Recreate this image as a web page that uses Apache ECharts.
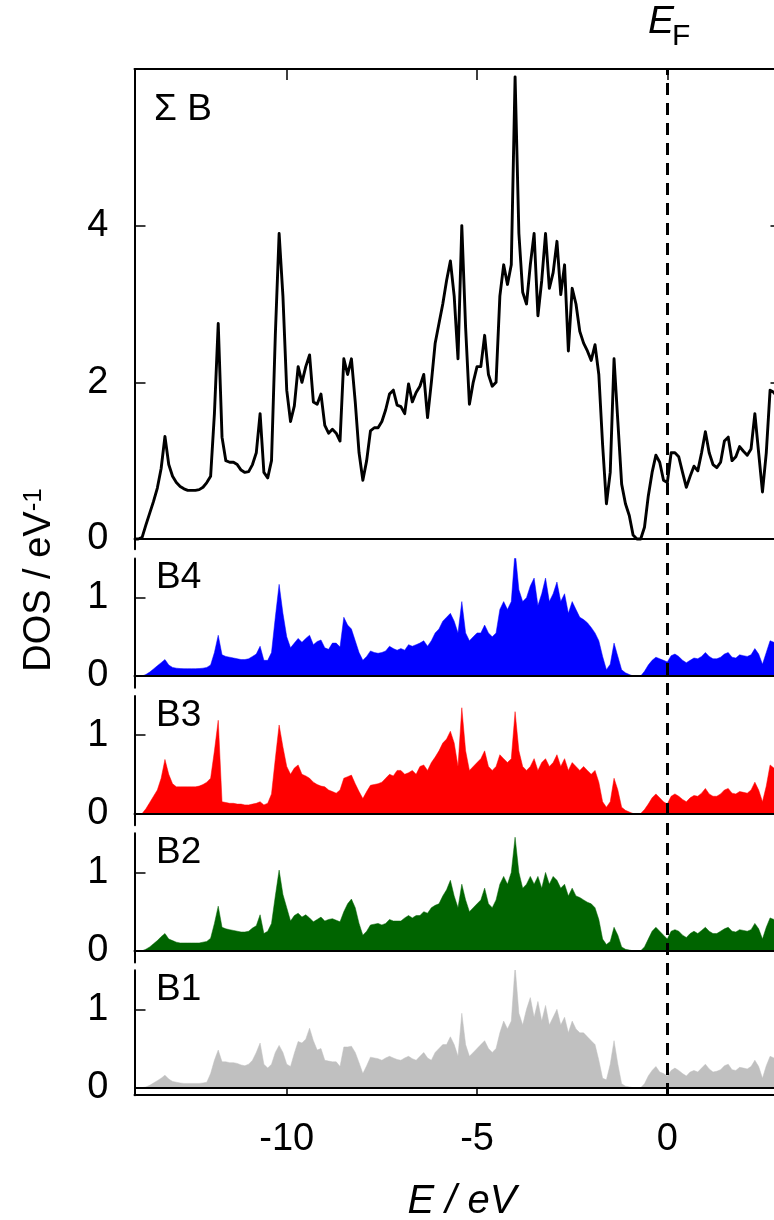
<!DOCTYPE html>
<html><head><meta charset="utf-8">
<script src="https://cdn.jsdelivr.net/npm/echarts@6/dist/echarts.min.js"></script>
<style>html,body{margin:0;padding:0;background:#fff}#c{width:774px;height:1220px}</style>
</head><body><div id="c"></div><script>
// Energy grid (eV)
const energy = [
-14,-13.9,-13.8,-13.7,-13.6,-13.5,-13.4,-13.3,-13.2,-13.1,
-13,-12.9,-12.8,-12.7,-12.6,-12.5,-12.4,-12.3,-12.2,-12.1,
-12,-11.9,-11.8,-11.7,-11.6,-11.5,-11.4,-11.3,-11.2,-11.1,
-11,-10.9,-10.8,-10.7,-10.6,-10.5,-10.4,-10.3,-10.2,-10.1,
-10,-9.9,-9.8,-9.7,-9.6,-9.5,-9.4,-9.3,-9.2,-9.1,
-9,-8.9,-8.8,-8.7,-8.6,-8.5,-8.4,-8.3,-8.2,-8.1,
-8,-7.9,-7.8,-7.7,-7.6,-7.5,-7.4,-7.3,-7.2,-7.1,
-7,-6.9,-6.8,-6.7,-6.6,-6.5,-6.4,-6.3,-6.2,-6.1,
-6,-5.9,-5.8,-5.7,-5.6,-5.5,-5.4,-5.3,-5.2,-5.1,
-5,-4.9,-4.8,-4.7,-4.6,-4.5,-4.4,-4.3,-4.2,-4.1,
-4,-3.9,-3.8,-3.7,-3.6,-3.5,-3.4,-3.3,-3.2,-3.1,
-3,-2.9,-2.8,-2.7,-2.6,-2.5,-2.4,-2.3,-2.2,-2.1,
-2,-1.9,-1.8,-1.7,-1.6,-1.5,-1.4,-1.3,-1.2,-1.1,
-1,-0.9,-0.8,-0.7,-0.6,-0.5,-0.4,-0.3,-0.2,-0.1,
0,0.1,0.2,0.3,0.4,0.5,0.6,0.7,0.8,0.9,
1,1.1,1.2,1.3,1.4,1.5,1.6,1.7,1.8,1.9,
2,2.1,2.2,2.3,2.4,2.5,2.6,2.7,2.8,2.9,
3];

// Total boron DOS (Sigma B)
const sumB = [
0,0,0.02,0.18,0.33,0.48,0.65,0.9,1.31,0.95,
0.8,0.72,0.67,0.64,0.62,0.62,0.62,0.63,0.66,0.72,
0.8,1.6,2.75,1.3,1.0,0.98,0.98,0.95,0.88,0.85,
0.86,0.95,1.1,1.6,0.85,0.78,1.0,2.6,3.9,3.1,
1.9,1.5,1.7,2.2,2.0,2.2,2.35,1.75,1.72,1.85,
1.45,1.35,1.4,1.35,1.25,2.3,2.1,2.3,1.75,1.1,
0.75,1.0,1.38,1.42,1.42,1.5,1.65,1.85,1.9,1.71,
1.69,1.6,1.98,1.75,1.87,1.95,2.1,1.55,2.0,2.5,
2.75,3.0,3.3,3.55,3.1,2.3,4.0,2.7,1.72,2.0,
2.2,2.2,2.6,2.1,1.95,2.0,3.1,3.5,3.25,3.5,
5.9,3.9,3.15,3.0,3.5,3.9,2.85,3.3,3.9,3.2,
3.4,3.8,3.12,3.5,2.4,3.2,3.0,2.65,2.5,2.4,
2.28,2.48,2.1,1.2,0.45,0.85,2.3,1.5,0.7,0.45,
0.3,0.05,0,0,0.15,0.55,0.85,1.07,0.98,0.75,
0.72,1.1,1.1,1.05,0.85,0.66,0.8,0.93,0.87,1.1,
1.37,1.1,0.95,0.91,0.98,1.25,1.3,1.0,1.05,1.18,
1.12,1.07,1.15,1.6,1.1,0.6,1.1,1.9,1.87,1.8,
1.75];

const b4 = [
0,0,0,0.02,0.05,0.09,0.13,0.17,0.21,0.14,
0.11,0.1,0.095,0.094,0.094,0.094,0.094,0.095,0.1,0.11,
0.14,0.3,0.52,0.27,0.25,0.24,0.23,0.22,0.21,0.21,
0.22,0.25,0.28,0.38,0.2,0.2,0.3,0.75,1.17,0.8,
0.5,0.36,0.42,0.48,0.43,0.48,0.52,0.4,0.44,0.46,
0.36,0.34,0.42,0.42,0.37,0.75,0.65,0.6,0.45,0.3,
0.2,0.25,0.32,0.3,0.29,0.3,0.32,0.38,0.35,0.33,
0.35,0.33,0.4,0.38,0.4,0.42,0.45,0.38,0.45,0.55,
0.6,0.7,0.75,0.8,0.7,0.55,0.95,0.55,0.45,0.5,
0.55,0.55,0.65,0.55,0.5,0.55,0.85,0.95,0.85,0.95,
1.6,1.1,0.95,1.0,1.15,1.25,0.9,1.05,1.25,0.95,
1.05,1.2,0.95,1.05,0.8,0.95,0.85,0.75,0.72,0.68,
0.62,0.55,0.45,0.25,0.08,0.15,0.42,0.25,0.08,0.04,
0.02,0,0,0,0.06,0.14,0.2,0.24,0.22,0.2,
0.18,0.26,0.28,0.25,0.2,0.17,0.2,0.23,0.22,0.25,
0.3,0.25,0.22,0.22,0.24,0.28,0.3,0.24,0.23,0.27,
0.26,0.25,0.27,0.35,0.28,0.15,0.3,0.45,0.43,0.42,
0.4];

const b3 = [
0,0,0,0.06,0.14,0.22,0.3,0.45,0.69,0.5,
0.38,0.34,0.34,0.34,0.34,0.34,0.34,0.35,0.37,0.4,
0.45,0.8,1.19,0.15,0.14,0.13,0.13,0.12,0.12,0.11,
0.11,0.12,0.13,0.15,0.11,0.13,0.25,0.7,1.13,0.85,
0.6,0.5,0.58,0.62,0.5,0.48,0.45,0.4,0.37,0.35,
0.34,0.3,0.28,0.26,0.3,0.45,0.47,0.49,0.38,0.28,
0.19,0.28,0.36,0.37,0.38,0.4,0.45,0.5,0.48,0.55,
0.55,0.5,0.52,0.55,0.5,0.6,0.62,0.55,0.65,0.72,
0.8,0.9,0.95,1.05,0.9,0.6,1.35,0.8,0.55,0.6,
0.65,0.7,0.8,0.6,0.55,0.6,0.75,0.7,0.65,0.7,
1.3,0.8,0.6,0.55,0.6,0.7,0.55,0.65,0.7,0.6,
0.65,0.75,0.6,0.7,0.55,0.65,0.6,0.55,0.6,0.55,
0.5,0.55,0.4,0.15,0.08,0.15,0.45,0.3,0.08,0.04,
0.02,0,0,0,0.05,0.12,0.2,0.25,0.2,0.15,
0.12,0.22,0.25,0.22,0.18,0.15,0.2,0.23,0.22,0.26,
0.32,0.25,0.22,0.22,0.25,0.3,0.32,0.26,0.25,0.28,
0.27,0.26,0.3,0.4,0.3,0.15,0.35,0.62,0.58,0.55,
0.52];

const b2 = [
0,0,0,0.02,0.05,0.09,0.13,0.18,0.22,0.15,
0.13,0.11,0.1,0.1,0.1,0.1,0.1,0.1,0.11,0.12,
0.16,0.35,0.57,0.3,0.28,0.27,0.26,0.25,0.24,0.24,
0.25,0.29,0.32,0.46,0.22,0.25,0.35,0.7,1.03,0.72,
0.55,0.38,0.45,0.48,0.43,0.46,0.42,0.37,0.4,0.43,
0.38,0.4,0.41,0.39,0.37,0.5,0.6,0.66,0.55,0.35,
0.2,0.25,0.33,0.34,0.35,0.33,0.35,0.4,0.38,0.38,
0.38,0.42,0.45,0.42,0.45,0.45,0.5,0.48,0.55,0.58,
0.6,0.7,0.78,0.9,0.7,0.55,0.85,0.65,0.5,0.55,
0.6,0.65,0.8,0.6,0.55,0.65,0.85,0.95,0.85,1.0,
1.45,1.0,0.8,0.85,0.95,0.85,0.95,0.8,1.0,0.85,
0.95,0.9,0.8,0.85,0.7,0.8,0.7,0.68,0.65,0.62,
0.6,0.55,0.4,0.15,0.08,0.12,0.3,0.2,0.05,0.02,
0.01,0,0,0,0.05,0.15,0.25,0.3,0.25,0.2,
0.15,0.25,0.27,0.25,0.2,0.17,0.22,0.25,0.22,0.26,
0.3,0.25,0.22,0.22,0.25,0.28,0.3,0.25,0.24,0.27,
0.26,0.25,0.27,0.35,0.28,0.15,0.3,0.42,0.4,0.38,
0.36];

const b1 = [
0,0,0,0.01,0.03,0.06,0.09,0.12,0.16,0.11,
0.08,0.07,0.06,0.055,0.055,0.055,0.055,0.055,0.06,0.07,
0.18,0.35,0.48,0.33,0.33,0.32,0.32,0.31,0.29,0.28,
0.3,0.35,0.45,0.57,0.3,0.25,0.3,0.45,0.54,0.45,
0.3,0.27,0.44,0.59,0.57,0.62,0.76,0.6,0.48,0.5,
0.35,0.34,0.33,0.33,0.27,0.52,0.52,0.53,0.45,0.32,
0.18,0.28,0.39,0.38,0.37,0.35,0.38,0.4,0.38,0.36,
0.35,0.38,0.4,0.37,0.35,0.4,0.45,0.38,0.35,0.45,
0.5,0.55,0.55,0.65,0.55,0.4,0.95,0.55,0.4,0.45,
0.5,0.55,0.6,0.5,0.45,0.5,0.7,0.85,0.75,0.85,
1.55,0.95,0.8,1.0,1.15,0.9,1.1,0.85,1.05,0.8,
0.9,1.0,0.8,0.9,0.7,0.85,0.75,0.7,0.7,0.65,
0.6,0.55,0.35,0.12,0.1,0.3,0.6,0.3,0.05,0.02,
0.01,0,0,0,0.05,0.15,0.22,0.27,0.2,0.18,
0.15,0.22,0.25,0.22,0.18,0.15,0.2,0.22,0.2,0.25,
0.3,0.24,0.2,0.21,0.23,0.28,0.3,0.23,0.22,0.26,
0.25,0.24,0.27,0.35,0.27,0.12,0.28,0.4,0.38,0.37,
0.35];

const xTicks = [-10, -5, 0];
const yTicksTop = [0, 2, 4];
const yTicksSub = [0, 1];
const panelNames = ['B4', 'B3', 'B2', 'B1'];
const panelColors = ['#0000ff', '#ff0000', '#006400', '#c0c0c0'];
const fermiEnergy = 0;

const FONT = "'Liberation Sans', Arial, Helvetica, sans-serif";
const L = 134.5, W = 647, U = 78.33;
const panelTops = [558.5, 696, 833.3, 970.2];

const pairs = arr => energy.map((e, i) => [e, arr[i]]);

const grids = [
  {left: L, top: 69, width: W, height: 6.13 * U},
  {left: L, top: panelTops[0], width: W, height: 1.65 * U},
  {left: L, top: panelTops[1], width: W, height: 1.65 * U},
  {left: L, top: panelTops[2], width: W, height: 1.65 * U},
  {left: L, top: panelTops[3], width: W, height: 1.595 * U},
  {left: L, top: 69, width: W, height: 1026}
].map(g => Object.assign({containLabel: false, outerBoundsMode: 'none'}, g));

const lineBlack = {color: '#000', width: 2};
function xAx(grid, opts) {
  return Object.assign({
    type: 'value', gridIndex: grid, min: -14, max: 3, z: 10,
    axisLine: {show: true, onZero: true, lineStyle: lineBlack},
    axisTick: {show: false}, axisLabel: {show: false}, splitLine: {show: false}
  }, opts || {});
}
function yAx(grid, min, max, ticks, opts) {
  return Object.assign({
    type: 'value', gridIndex: grid, min: min, max: max, z: 10,
    axisLine: {show: true, onZero: false, lineStyle: lineBlack},
    axisTick: {show: true, inside: true, length: 11, customValues: ticks, lineStyle: {color: '#000', width: 1.5}},
    axisLabel: {show: true, customValues: ticks, fontSize: 38, color: '#000', fontFamily: FONT, margin: 26},
    splitLine: {show: false}
  }, opts || {});
}

const xAxes = [
  xAx(0),
  xAx(0, {position: 'top', axisLine: {show: true, onZero: false, lineStyle: lineBlack},
    axisTick: {show: true, inside: true, length: 11, customValues: xTicks, lineStyle: {color: '#000', width: 1.5}}}),
  xAx(1), xAx(2), xAx(3),
  xAx(4, {position: 'bottom', axisLine: {show: true, onZero: false, lineStyle: lineBlack},
    axisTick: {show: true, inside: true, length: 7, customValues: xTicks, lineStyle: {color: '#000', width: 1.5}},
    axisLabel: {show: true, customValues: xTicks, fontSize: 38, color: '#000', fontFamily: FONT, margin: 25}}),
  xAx(5, {show: false})
];
const yAxes = [
  yAx(0, -0.13, 6, yTicksTop),
  yAx(0, -0.13, 6, yTicksTop, {position: 'right', axisLabel: {show: false}}),
  yAx(1, -0.15, 1.5, yTicksSub),
  yAx(2, -0.15, 1.5, yTicksSub),
  yAx(3, -0.15, 1.5, yTicksSub),
  yAx(4, -0.095, 1.5, yTicksSub),
  {type: 'value', gridIndex: 5, min: 0, max: 1, show: false}
];

const partial = [b4, b3, b2, b1];
const series = [{
  type: 'line', xAxisIndex: 0, yAxisIndex: 0, data: pairs(sumB),
  symbol: 'none', showSymbol: false, z: 3,
  lineStyle: {color: '#000', width: 2.9, join: 'round'}
}];
partial.forEach((arr, k) => {
  const s = {
    type: 'line', xAxisIndex: 2 + k, yAxisIndex: 2 + k, data: pairs(arr),
    symbol: 'none', showSymbol: false, z: 2,
    lineStyle: {color: panelColors[k], width: 0.5},
    areaStyle: {color: panelColors[k], opacity: 1}
  };
  if (k === 3) {
    s.markLine = {silent: true, symbol: ['none', 'none'], label: {show: false}, animation: false,
      lineStyle: {color: '#000', width: 2, type: 'solid'}, data: [{yAxis: 0}]};
  }
  series.push(s);
});
series.push({
  type: 'line', xAxisIndex: 6, yAxisIndex: 6, data: [[fermiEnergy, 0]],
  symbol: 'none', showSymbol: false, lineStyle: {opacity: 0}, z: 20,
  markLine: {silent: true, symbol: ['none', 'none'], label: {show: false}, animation: false,
    lineStyle: {color: '#000', width: 3, type: [12, 8]}, data: [{xAxis: fermiEnergy}]}
});

const txt = (x, y, text, size, extra) => ({
  type: 'text', x: x, y: y, z: 50,
  style: Object.assign({text: text, fontSize: size, fontFamily: FONT, fill: '#000', verticalAlign: 'middle', align: 'left'}, extra || {})
});
const graphics = [
  txt(154, 110, 'Σ B', 37),
  txt(648, 22.5, 'E', 39, {fontStyle: 'italic'}),
  txt(672, 37, 'F', 30),
  txt(462, 1202, 'E / eV', 40, {fontStyle: 'italic', align: 'center'}),
  {type: 'text', x: 40, y: 580, rotation: Math.PI / 2, z: 50,
   style: {text: '{m|DOS / eV}{s|-1}', align: 'center', verticalAlign: 'middle', fill: '#000',
     rich: {m: {fontSize: 38, fontFamily: FONT, fill: '#000'}, s: {fontSize: 26, fontFamily: FONT, fill: '#000', verticalAlign: 'top'}}}}
];
panelNames.forEach((n, k) => graphics.push(txt(156, panelTops[k] + 19.5, n, 37)));

const chart = echarts.init(document.getElementById('c'), null, {renderer: 'canvas'});
chart.setOption({
  animation: false,
  backgroundColor: '#fff',
  textStyle: {fontFamily: FONT},
  grid: grids, xAxis: xAxes, yAxis: yAxes, series: series, graphic: graphics
});
</script></body></html>
